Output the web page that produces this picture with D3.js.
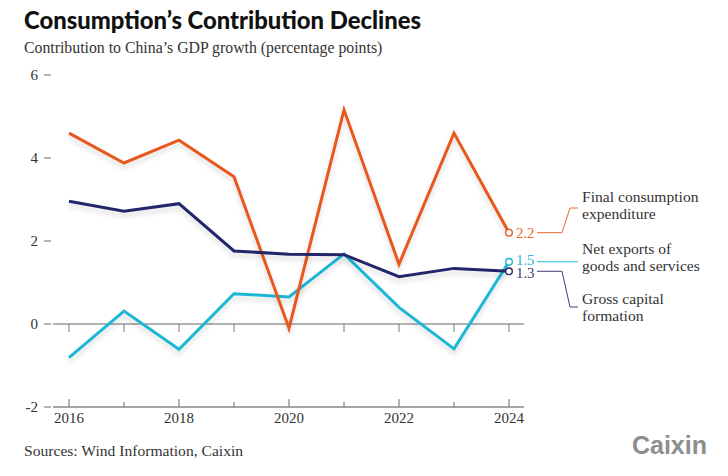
<!DOCTYPE html>
<html><head><meta charset="utf-8">
<script src="https://cdn.jsdelivr.net/npm/d3@7/dist/d3.min.js"></script>
<style>
html,body{margin:0;padding:0;background:#fff;}
svg{display:block;}
</style></head>
<body>
<script>
const years = [2016,2017,2018,2019,2020,2021,2022,2023,2024];
const consumption = [4.6,3.88,4.43,3.55,-0.1,5.16,1.44,4.6,2.2];
const capital = [2.96,2.72,2.9,1.76,1.68,1.67,1.14,1.34,1.27];
const netExports = [-0.81,0.31,-0.61,0.73,0.65,1.69,0.4,-0.6,1.5];
const yTicks = [-2,0,2,4,6];
const xTicks = [2016,2018,2020,2022,2024];
const seriesNames = [["Final consumption","expenditure"],["Net exports of","goods and services"],["Gross capital","formation"]];

const W=728,H=476;
const svg=d3.select("body").append("svg").attr("width",W).attr("height",H);
const defs=svg.append("defs");
const f=defs.append("filter").attr("id","sh").attr("x","-10%").attr("y","-10%").attr("width","120%").attr("height","140%");
f.append("feDropShadow").attr("dx",0).attr("dy",4).attr("stdDeviation",2.5).attr("flood-color","#000").attr("flood-opacity",0.14);

const serif="'Liberation Serif','DejaVu Serif',serif";
svg.append("text").attr("x",24).attr("y",29).text("Consumption’s Contribution Declines")
  .attr("font-family","Lato").attr("font-weight",900).attr("font-size",23.8).attr("fill","#111");
svg.append("text").attr("x",24).attr("y",53).text("Contribution to China’s GDP growth (percentage points)")
  .attr("font-family",serif).attr("font-size",15.8).attr("fill","#333");

const x=d3.scaleLinear().domain([2016,2024]).range([69,509]);
const y=d3.scaleLinear().domain([-2,6]).range([407,75]);

// y ticks
const yg=svg.append("g");
yTicks.forEach(t=>{
  yg.append("text").attr("x",38).attr("y",y(t)+5).attr("text-anchor","end").text(t)
    .attr("font-family",serif).attr("font-size",15).attr("fill","#333");
  yg.append("line").attr("x1",44).attr("x2",51).attr("y1",y(t)).attr("y2",y(t)).attr("stroke","#666").attr("stroke-width",1);
});
// zero line and axis
svg.append("line").attr("x1",53).attr("x2",524).attr("y1",y(0)).attr("y2",y(0)).attr("stroke","#999").attr("stroke-width",1.3);
svg.append("line").attr("x1",53).attr("x2",524).attr("y1",y(-2)).attr("y2",y(-2)).attr("stroke","#888").attr("stroke-width",1.6);
years.forEach(yr=>{
  const major = yr%2===0;
  svg.append("line").attr("x1",x(yr)).attr("x2",x(yr)).attr("y1",y(0)).attr("y2",y(0)+8).attr("stroke","#777").attr("stroke-width",1);
  svg.append("line").attr("x1",x(yr)).attr("x2",x(yr)).attr("y1",y(-2)).attr("y2",y(-2)-(major?8:5)).attr("stroke","#666").attr("stroke-width",1);
});
xTicks.forEach(t=>{
  svg.append("text").attr("x",x(t)).attr("y",y(-2)+16).attr("text-anchor","middle").text(t)
    .attr("font-family",serif).attr("font-size",15).attr("fill","#333");
});

const series=[
  {v:consumption,c:"#e8581d",tc:"#e8682f",dy:5},
  {v:netExports,c:"#1db6d7",tc:"#25b8d8",dy:3},
  {v:capital,c:"#23266b",tc:"#3a3c78",dy:6.5}
];
const line=d3.line().x((d,i)=>x(years[i])).y(d=>y(d));
[series[1],series[0],series[2]].forEach(s=>{
  svg.append("path").attr("d",line(s.v)).attr("fill","none").attr("stroke",s.c).attr("stroke-width",3)
    .attr("stroke-linejoin","miter").attr("filter","url(#sh)");
});
series.forEach(s=>{
  const last=s.v[s.v.length-1];
  svg.append("circle").attr("cx",x(2024)).attr("cy",y(last)).attr("r",3.3)
    .attr("fill","#fff").attr("stroke",s.c).attr("stroke-width",1.4);
  svg.append("text").attr("x",x(2024)+7).attr("y",y(last)+s.dy).text(d3.format(".1f")(last))
    .attr("font-family",serif).attr("font-size",14.8).attr("fill",s.tc);
});

// leader lines
const lx0=537, lx1=562, lx2=570, lx3=578;
const yc=y(consumption[8]), ye=y(netExports[8]), yk=y(capital[8]);
svg.append("path").attr("d",`M${lx0},${yc}H${lx1}L${lx2},${208}H${lx3}`).attr("fill","none").attr("stroke","#e8682f").attr("stroke-width",1);
svg.append("path").attr("d",`M${lx0},${ye}H${lx3}`).attr("fill","none").attr("stroke","#25b8d8").attr("stroke-width",1);
svg.append("path").attr("d",`M${lx0},${yk}H${lx1}L${lx2},${307}H${lx3}`).attr("fill","none").attr("stroke","#3a3c78").attr("stroke-width",1);

const labY=[[202,219],[254,271],[304,321]];
seriesNames.forEach((n,i)=>{
  n.forEach((t,j)=>{
    svg.append("text").attr("x",582).attr("y",labY[i][j]).text(t)
      .attr("font-family",serif).attr("font-size",15.6).attr("fill","#333");
  });
});

svg.append("text").attr("x",24).attr("y",456).text("Sources: Wind Information, Caixin")
  .attr("font-family",serif).attr("font-size",15.6).attr("fill","#333");
svg.append("text").attr("x",707).attr("y",454).attr("text-anchor","end").text("Caixin")
  .attr("font-family","'Liberation Sans',Arial,sans-serif").attr("font-weight",700).attr("font-size",25).attr("fill","#8e8e8e");
</script>
</body></html>
